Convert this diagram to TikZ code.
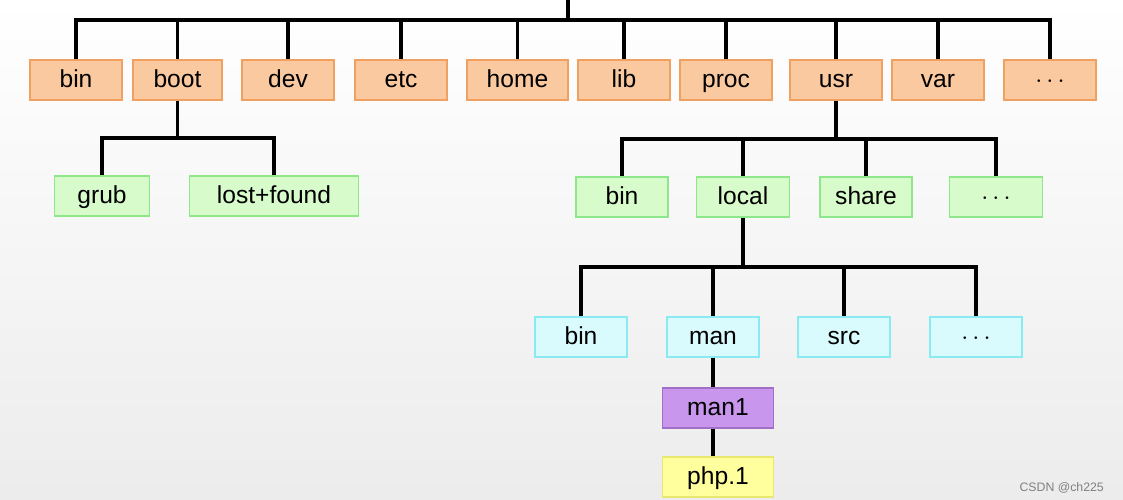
\documentclass[tikz,border=0pt]{standalone}
\usepackage{fontspec}
\setsansfont{Liberation Sans}
\definecolor{orangefill}{HTML}{FAC9A0}
\definecolor{orangeline}{HTML}{F0A060}
\definecolor{greenfill}{HTML}{D8FBCB}
\definecolor{greenline}{HTML}{8EE88A}
\definecolor{cyanfill}{HTML}{D9FBFD}
\definecolor{cyanline}{HTML}{8AEAF2}
\definecolor{purplefill}{HTML}{C896EC}
\definecolor{purpleline}{HTML}{A070C8}
\definecolor{yellowfill}{HTML}{FFFF9E}
\definecolor{yellowline}{HTML}{E8E870}
\tikzset{
  dirbox/.style={draw, line width=1pt, minimum height=0.8cm, inner sep=0pt,
    text height=2.3ex, text depth=0.45ex,
    font=\sffamily\fontsize{14}{16}\selectfont},
  topdir/.style={dirbox, fill=orangefill, draw=orangeline},
  subdir/.style={dirbox, fill=greenfill, draw=greenline},
  localdir/.style={dirbox, fill=cyanfill, draw=cyanline},
  link/.style={line width=2.2pt, black}
}
\begin{document}
\begin{tikzpicture}[x=0.02cm, y=-0.02cm]
\useasboundingbox (0,0) rectangle (1123,500);
\shade[top color=white, bottom color=gray!15] (0,0) rectangle (1123,500);
% top level
\foreach \name/\label/\xl/\xr in {rbin/bin/30/122, boot/boot/133/222, dev/dev/242/334,
  etc/etc/355/447, home/home/467/568, lib/lib/578/670, proc/proc/680/772,
  usr/usr/790/882, var/var/892/984, rdots/$\cdots$/1004/1096}
  \node[topdir, minimum width=(\xr-\xl)*0.02cm] (\name) at ({(\xl+\xr)/2},80) {\label};
\coordinate (root) at (568,0);
\draw[link] (root) -- (568,20);
\draw[link] (rbin.north) |- (568,20) -| (rdots.north);
\foreach \name in {boot,dev,etc,home,lib,proc,usr,var}
  \draw[link] (\name.north) -- (\name.north |- 0,20);
% boot
\node[subdir, minimum width=1.9cm] (grub) at (102,196) {grub};
\node[subdir, minimum width=3.38cm] (lost) at (274,196) {lost+found};
\draw[link] (boot.south) -- ++(0,37) coordinate (bootbus);
\draw[link] (grub.north) |- (bootbus) -| (lost.north);
% usr
\node[subdir, minimum width=1.84cm] (ubin) at (622,197) {bin};
\node[subdir, minimum width=1.86cm] (local) at (743,197) {local};
\node[subdir, minimum width=1.84cm] (share) at (866,197) {share};
\node[subdir, minimum width=1.86cm] (udots) at (996,197) {$\cdots$};
\draw[link] (usr.south) -- ++(0,38) coordinate (usrbus);
\draw[link] (ubin.north) |- (usrbus) -| (udots.north);
\draw[link] (local.north) -- (local.north |- usrbus);
\draw[link] (share.north) -- (share.north |- usrbus);
% local
\node[localdir, minimum width=1.84cm] (lbin) at (581,337) {bin};
\node[localdir, minimum width=1.84cm] (man) at (713,337) {man};
\node[localdir, minimum width=1.84cm] (src) at (844,337) {src};
\node[localdir, minimum width=1.84cm] (ldots) at (976,337) {$\cdots$};
\draw[link] (local.south) -- ++(0,49) coordinate (localbus);
\draw[link] (lbin.north) |- (localbus) -| (ldots.north);
\draw[link] (man.north) -- (man.north |- localbus);
\draw[link] (src.north) -- (src.north |- localbus);
% man
\node[dirbox, fill=purplefill, draw=purpleline, minimum width=2.22cm] (man1) at (718,408) {man1};
\node[dirbox, fill=yellowfill, draw=yellowline, minimum width=2.22cm] (php) at (718,477) {php.1};
\draw[link] (man.south) -- (man.south |- man1.north);
\draw[link] (man.south |- man1.south) -- (man.south |- php.north);
\node[font=\sffamily\scriptsize, text=gray, anchor=east] (mark) at (1110,488) {CSDN @ch225};
\end{tikzpicture}
\end{document}
